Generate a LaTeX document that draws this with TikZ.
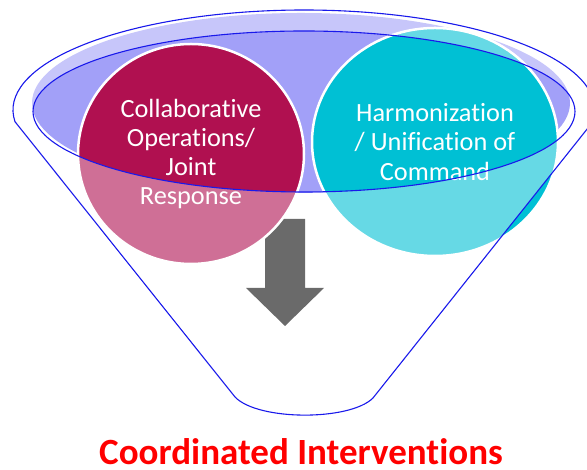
\documentclass[tikz,border=0pt]{standalone}
\usepackage{fontspec}
\setmainfont{Carlito}[Ligatures=NoCommon]
\usetikzlibrary{shapes.geometric}
\begin{document}
\begin{tikzpicture}[x=1pt,y=1pt]
\definecolor{mouthfill}{RGB}{162,160,248}
\definecolor{rimblue}{RGB}{25,25,235}
\definecolor{berry}{RGB}{176,16,80}
\definecolor{teal}{RGB}{0,192,212}
\definecolor{arrowdark}{RGB}{8,8,8}
\tikzset{
  bubble/.style={ellipse, draw=white, line width=2.5pt, inner sep=0pt,
    align=center, text=white, font=\fontsize{26.3}{29.3}\selectfont},
  rim/.style={draw=rimblue, line width=1.1pt, line join=round},
  body/.style={fill=white, fill opacity=0.4, even odd rule},
  result/.style={text=red, font=\bfseries\fontsize{37}{40}\selectfont, inner sep=0pt}
}
% outline of the funnel: rim arc, sloping sides, rounded spout
\newcommand\funnelrim{(15,348.3) arc[start angle=186.72, end angle=-6.72, x radius=291pt, y radius=100pt]
  -- (373,72) .. controls (350,49) and (258,49) .. (235,73) -- cycle}
\useasboundingbox (0,0) rectangle (587,470);
\clip (0,0) rectangle (587,470);

% mouth of the funnel
\fill[mouthfill] (301,367) ellipse[x radius=269pt, y radius=90pt];

% downward arrow inside the funnel
\fill[arrowdark] (265,251) -- (305,251) -- (305,182) -- (324,182) -- (285,144)
  -- (246,182) -- (265,182) -- cycle;

% the two inputs
\node[bubble, fill=berry, minimum width=226pt, minimum height=220pt] (collab) at (191,316)
  {Collaborative\\Operations/\\Joint\\Response};
\node[bubble, fill=teal, minimum width=246pt, minimum height=228pt] (harmon) at (435,328)
  {Harmonization\\/ Unification of\\Command};

% translucent funnel body, open at the mouth
\fill[body] \funnelrim (304,358.5) ellipse[x radius=271pt, y radius=80.5pt];

% funnel lines
\draw[rim] \funnelrim;
\draw[rim] (304,358.5) ellipse[x radius=271pt, y radius=80.5pt];

% outcome
\node[result, anchor=base] (outcome) at (301,5.5) {Coordinated Interventions};
\end{tikzpicture}
\end{document}
